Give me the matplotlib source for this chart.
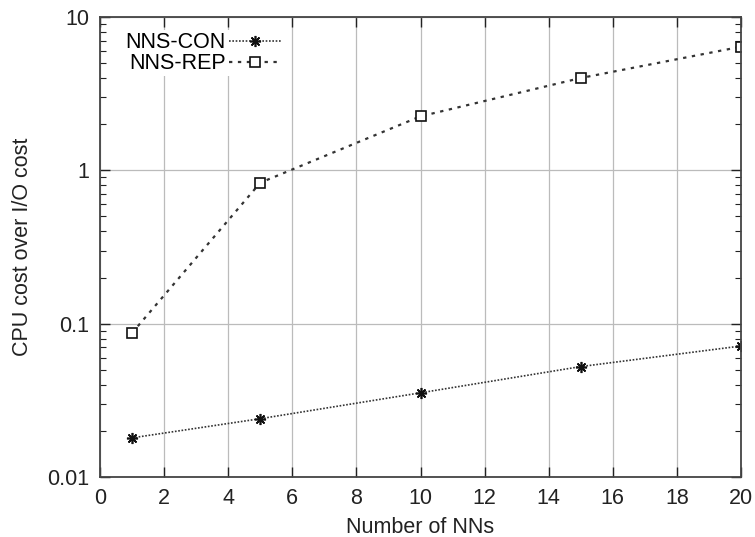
import matplotlib
matplotlib.use("Agg")
import matplotlib.pyplot as plt
from matplotlib.ticker import LogLocator, FixedLocator, NullFormatter

plt.rcParams['font.family'] = ['Liberation Sans', 'DejaVu Sans']

nns = [1, 5, 10, 15, 20]
nns_con = [0.018, 0.024, 0.0354, 0.0525, 0.0715]
nns_rep = [0.087, 0.83, 2.25, 4.0, 6.4]
xticks = list(range(0, 21, 2))
yticks = [0.01, 0.1, 1, 10]
ytick_labels = ["0.01", "0.1", "1", "10"]

FS = 15.5

fig = plt.figure(figsize=(7.55, 5.37), dpi=100)
ax = fig.add_axes([100/755, 1 - 477/537, 641/755, 460/537])

ax.plot(nns, nns_con, linestyle=(0, (1, 1)), color='#333333', linewidth=1.2,
        marker=(8, 2, 0), markersize=8, markeredgewidth=1.2, markeredgecolor='#111111',
        label='NNS-CON')
ax.plot(nns, nns_rep, linestyle=(0, (1.5, 2.5)), color='#333333', linewidth=1.6,
        marker='s', markersize=7, markerfacecolor='white', markeredgewidth=1.2,
        markeredgecolor='#111111', label='NNS-REP')

ax.set_yscale('log')
ax.set_xlim(0, 20)
ax.set_ylim(0.01, 10)
ax.set_xticks(xticks)
ax.set_xticklabels([str(t) for t in xticks])
ax.yaxis.set_major_locator(FixedLocator(yticks))
ax.set_yticklabels(ytick_labels)
ax.yaxis.set_minor_locator(LogLocator(base=10, subs=range(2, 10)))
ax.yaxis.set_minor_formatter(NullFormatter())

ax.grid(True, which='major', color='#bbbbbb', linewidth=0.9)
ax.tick_params(which='both', direction='in', top=True, right=True, labelsize=FS, colors='#222222')
ax.tick_params(which='major', length=7, width=1.0)
ax.tick_params(which='minor', length=4, width=0.8)
ax.tick_params(axis='x', pad=8)
ax.tick_params(axis='y', pad=8)
for s in ax.spines.values():
    s.set_color('#444444')
    s.set_linewidth(1.3)

ax.set_xlabel('Number of NNs', fontsize=FS, color='#222222', labelpad=6)
ax.set_ylabel('CPU cost over I/O cost', fontsize=FS, color='#222222', labelpad=10)

leg = ax.legend(loc='upper left', bbox_to_anchor=(0.02, 0.995), markerfirst=False,
                frameon=True, fontsize=FS, handlelength=2.4, handletextpad=0.15,
                labelspacing=0.0, borderpad=0.1, fancybox=False)
leg.get_frame().set_edgecolor('none')
leg.get_frame().set_facecolor('white')
leg.get_frame().set_alpha(1.0)

fig.savefig('out.png', dpi=100)
